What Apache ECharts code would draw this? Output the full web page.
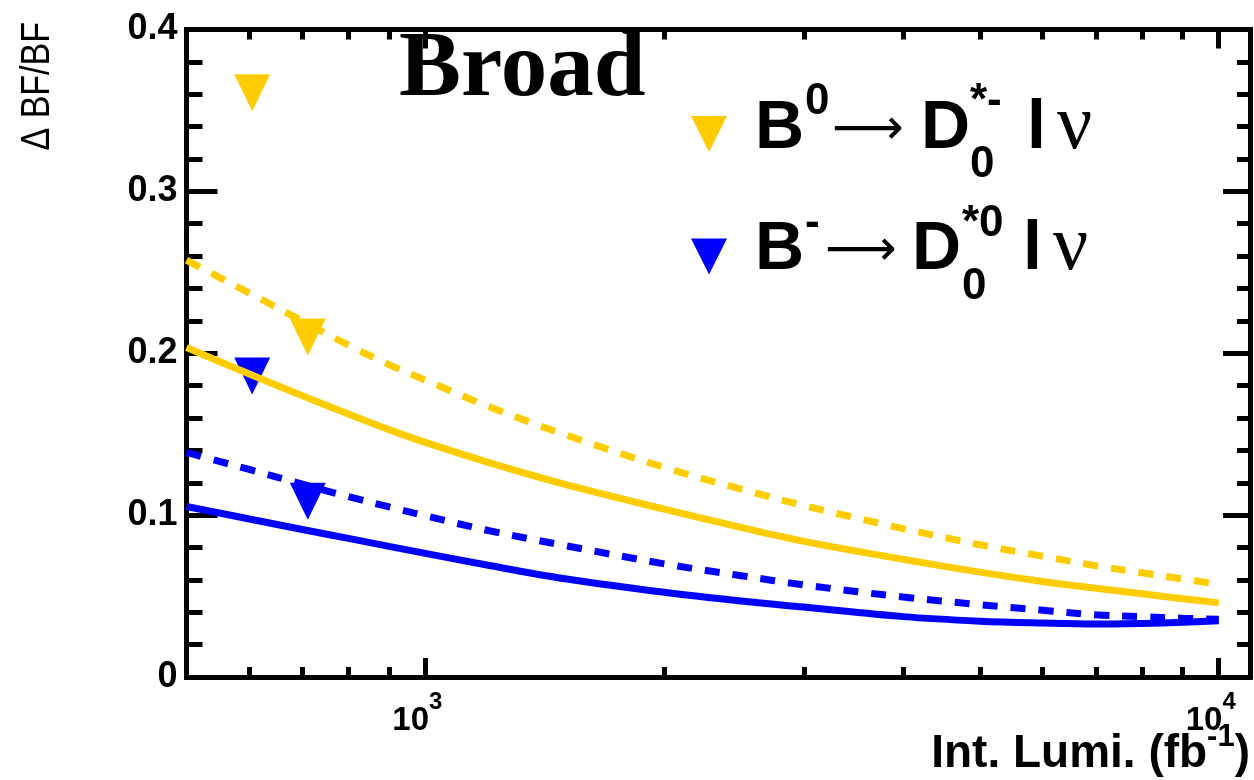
<!DOCTYPE html>
<html><head><meta charset="utf-8">
<script src="https://cdn.jsdelivr.net/npm/echarts@6/dist/echarts.min.js"></script>
<style>html,body{margin:0;padding:0;background:#fff}#c{width:1254px;height:780px}</style>
</head><body><div id="c"></div>
<script>
// ---- data ----
const lumi = [500, 550, 600, 700, 800, 900, 1000, 1200, 1500, 2000, 2500, 3000, 4000, 5000, 6000, 7000, 8000, 9000, 10000];
const yellowDashed = [0.2575, 0.2469, 0.2372, 0.2199, 0.2050, 0.1930, 0.1834, 0.1672, 0.1497, 0.1295, 0.1161, 0.1059, 0.0917, 0.0817, 0.0746, 0.0687, 0.0644, 0.0606, 0.0572];
const yellowSolid = [0.2035, 0.1949, 0.1872, 0.1737, 0.1625, 0.1528, 0.1449, 0.1326, 0.1190, 0.1037, 0.0924, 0.0838, 0.0727, 0.0648, 0.0590, 0.0548, 0.0514, 0.0484, 0.0458];
const blueDashed = [0.1388, 0.1332, 0.1282, 0.1191, 0.1114, 0.1051, 0.0996, 0.0905, 0.0812, 0.0699, 0.0626, 0.0569, 0.0494, 0.0447, 0.0413, 0.0384, 0.0372, 0.0363, 0.0356];
const blueSolid = [0.1053, 0.1013, 0.0976, 0.0911, 0.0856, 0.0807, 0.0764, 0.0690, 0.0607, 0.0523, 0.0469, 0.0432, 0.0373, 0.0345, 0.0333, 0.0327, 0.0331, 0.0338, 0.0348];
const markerLumi = [605, 711];
const yellowMarkers = [0.361, 0.210];
const blueMarkers = [0.186, 0.1086];
const xMajorTicks = [1000, 10000];
const xMinorTicks = [600, 700, 800, 900, 2000, 3000, 4000, 5000, 6000, 7000, 8000, 9000];
const xRange = [500, 10950];
const yRange = [0, 0.4];
const seriesNames = ['B0', 'Bminus'];

// ---- build ----
const lg = Math.log10;
const YEL = '#FFCC00', BLU = '#0000FF';
const toPts = (xs, ys) => xs.map((L, i) => [lg(L), ys[i]]);
const SANS = '"Liberation Sans", Arial, Helvetica, sans-serif';

function tok(size, pt, w, opts) {
  return Object.assign({
    fontSize: size, fontWeight: 'bold', fontFamily: SANS, color: '#000',
    lineHeight: 120, height: 0, verticalAlign: 'top', align: 'left',
    padding: [pt, 0, 0, 0], width: w
  }, opts || {});
}
const ARROW = { fontFamily: '"DejaVu Sans", sans-serif', fontWeight: 'normal' };
const NU = { fontFamily: '"Liberation Serif", "DejaVu Serif", serif', fontWeight: 'normal' };
const legendRich = {
  sp: tok(20, 0, 23),
  B: tok(68, 55.5, 50),
  // row 1
  a0: tok(44, 28, 27),
  aAr: tok(50, 57, 89, ARROW),
  aD: tok(68, 55.5, 49),
  aSup: tok(44, 28, 0),
  aSub: tok(44, 90.5, 57),
  aL: tok(68, 55.5, 30),
  nu: tok(78, 54, 44, NU),
  // row 2
  b0: tok(44, 27, 20),
  bAr: tok(50, 56, 87, ARROW),
  bD: tok(68, 54, 50),
  bSup: tok(44, 27, 0),
  bSub: tok(44, 90, 61),
  bL: tok(68, 54, 30),
  bB: tok(68, 54, 50),
  nu2: tok(78, 52.5, 44, NU)
};
const legendText = {
  B0: '{sp| }{B|B}{a0|0}{aAr|⟶}{aD|D}{aSup|*-}{aSub|0}{aL|l}{nu|ν}',
  Bminus: '{sp| }{bB|B}{b0|-}{bAr|⟶}{bD|D}{bSup|*0}{bSub|0}{bL|l}{nu2|ν}'
};

const TRI = 'path://M0,0L10,0L5,10Z';
const lineBase = (data, color, dashed) => ({
  type: 'line', data, showSymbol: false, smooth: 0.35,
  lineStyle: { color, width: 7, type: dashed ? [15, 13] : 'solid' },
  z: 3, silent: true, animation: false
});

const xCommon = { type: 'value', min: lg(xRange[0]), max: lg(xRange[1]), splitLine: { show: false }, gridIndex: 0 };
const axLine = { show: true, lineStyle: { color: '#000', width: 5, cap: 'square' } };
const tickStyle = { color: '#000', width: 5 };

const option = {
  animation: false,
  backgroundColor: '#fff',
  grid: { left: 186.5, right: 4, top: 29.5, bottom: 103, containLabel: false, outerBoundsMode: 'none' },
  xAxis: [
    Object.assign({}, xCommon, {
      position: 'bottom', axisLine: axLine,
      axisTick: { show: true, inside: true, length: 19, lineStyle: tickStyle, customValues: xMajorTicks.map(lg) },
      axisLabel: {
        show: true, margin: 10, customValues: xMajorTicks.map(lg),
        formatter: v => '{a|10}{b|' + Math.round(v) + '}',
        rich: {
          a: { fontSize: 33, fontWeight: 'bold', fontFamily: SANS, color: '#000', lineHeight: 50, height: 0, verticalAlign: 'top', padding: [34, 0, 0, 0] },
          b: { fontSize: 24, fontWeight: 'bold', fontFamily: SANS, color: '#000', lineHeight: 50, height: 0, verticalAlign: 'top', padding: [15.5, 16, 0, 0] }
        }
      }
    }),
    Object.assign({}, xCommon, {
      position: 'bottom', axisLine: { show: false },
      axisTick: { show: true, inside: true, length: 10, lineStyle: tickStyle, customValues: xMinorTicks.map(lg) },
      axisLabel: { show: false }
    }),
    Object.assign({}, xCommon, {
      position: 'top', axisLine: axLine,
      axisTick: { show: true, inside: true, length: 19, lineStyle: tickStyle, customValues: xMajorTicks.map(lg) },
      axisLabel: { show: false }
    }),
    Object.assign({}, xCommon, {
      position: 'top', axisLine: { show: false },
      axisTick: { show: true, inside: true, length: 10, lineStyle: tickStyle, customValues: xMinorTicks.map(lg) },
      axisLabel: { show: false }
    })
  ],
  yAxis: [
    {
      type: 'value', position: 'left', min: yRange[0], max: yRange[1], interval: 0.1,
      axisLine: axLine, splitLine: { show: false },
      axisTick: { show: true, inside: true, length: 31, lineStyle: tickStyle },
      minorTick: { show: true, splitNumber: 5, length: 16, lineStyle: tickStyle },
      axisLabel: {
        show: true, margin: 9, fontSize: 36, fontWeight: 'bold', fontFamily: SANS, color: '#000',
        formatter: v => (Math.abs(v) < 1e-9 ? '0' : v.toFixed(1))
      }
    },
    {
      type: 'value', position: 'right', min: yRange[0], max: yRange[1], interval: 0.1,
      axisLine: axLine, splitLine: { show: false },
      axisTick: { show: true, inside: true, length: 27, lineStyle: tickStyle },
      minorTick: { show: true, splitNumber: 5, length: 13, lineStyle: tickStyle },
      axisLabel: { show: false }
    }
  ],
  legend: {
    left: 691, top: 64, orient: 'vertical', padding: 0, itemGap: 0,
    itemWidth: 36, itemHeight: 36, selectedMode: false,
    data: seriesNames.map(n => ({ name: n, icon: TRI, itemStyle: { opacity: 1 } })),
    formatter: n => legendText[n],
    textStyle: { color: '#000', rich: legendRich }
  },
  graphic: [
    {
      type: 'text', x: 38, y: 22, rotation: Math.PI / 2, scaleY: 1.2, silent: true,
      style: { text: 'Δ BF/BF', font: '34px "Liberation Sans", Arial, sans-serif', fill: '#000',
               align: 'right', textAlign: 'right', verticalAlign: 'middle', textVerticalAlign: 'middle' }
    },
    {
      type: 'text', x: 399, y: 71, silent: true,
      style: { text: 'Broad', font: 'bold 93px "Liberation Serif", "DejaVu Serif", serif', fill: '#000',
               align: 'left', textAlign: 'left', verticalAlign: 'middle', textVerticalAlign: 'middle' }
    },
    {
      type: 'text', x: 1250, y: 720, silent: true,
      style: {
        text: '{a|Int. Lumi. (fb}{s|-1}{a|)}', fill: '#000',
        align: 'right', textAlign: 'right', verticalAlign: 'top', textVerticalAlign: 'top',
        rich: {
          a: { fontSize: 46, fontWeight: 'bold', fontFamily: SANS, fill: '#000', lineHeight: 60, height: 0, verticalAlign: 'top', padding: [34, 0, 0, 0] },
          s: { fontSize: 31, fontWeight: 'bold', fontFamily: SANS, fill: '#000', lineHeight: 60, height: 0, verticalAlign: 'top', padding: [17, 0, 0, 0] }
        }
      }
    }
  ],
  series: [
    { name: 'B0', type: 'scatter', data: toPts(markerLumi, yellowMarkers), symbol: TRI, symbolSize: [36, 37],
      itemStyle: { color: YEL, opacity: 1 }, z: 2 },
    { name: 'Bminus', type: 'scatter', data: toPts(markerLumi, blueMarkers), symbol: TRI, symbolSize: [36, 37],
      itemStyle: { color: BLU, opacity: 1 }, z: 2 },
    lineBase(toPts(lumi, yellowDashed), YEL, true),
    lineBase(toPts(lumi, yellowSolid), YEL, false),
    lineBase(toPts(lumi, blueDashed), BLU, true),
    lineBase(toPts(lumi, blueSolid), BLU, false)
  ]
};
const chart = echarts.init(document.getElementById('c'), null, { renderer: 'canvas' });
chart.setOption(option);
</script>
</body></html>
